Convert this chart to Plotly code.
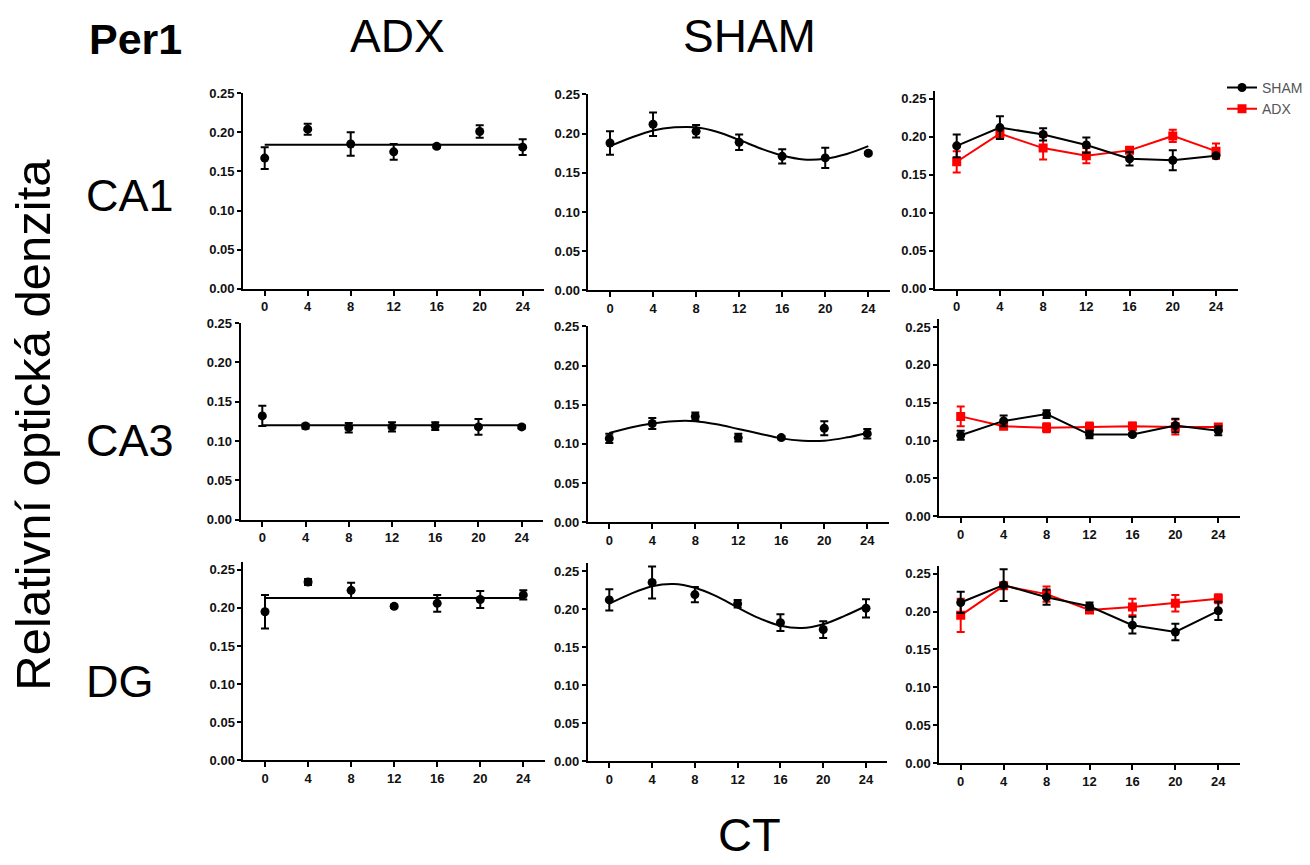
import plotly.graph_objects as go

# ---------------- data ----------------
ct = [0, 4, 8, 12, 16, 20, 24]
fit_ct = [0, 2, 4, 6, 8, 10, 12, 14, 16, 18, 20, 22, 24]
ct_ticks = [0, 4, 8, 12, 16, 20, 24]
y_ticks = [0.0, 0.05, 0.10, 0.15, 0.20, 0.25]

ca1_adx = [0.167, 0.204, 0.185, 0.175, 0.182, 0.201, 0.181]
ca1_adx_sem = [0.014, 0.007, 0.015, 0.010, 0.002, 0.008, 0.010]
ca1_adx_fit = 0.184
ca1_sham = [0.188, 0.212, 0.203, 0.189, 0.171, 0.169, 0.175]
ca1_sham_sem = [0.015, 0.015, 0.008, 0.010, 0.009, 0.013, 0.002]
ca1_sham_fit = [0.184, 0.195, 0.204, 0.208, 0.208, 0.202, 0.192, 0.181, 0.172, 0.167, 0.168, 0.174, 0.184]

ca3_adx = [0.132, 0.119, 0.117, 0.118, 0.119, 0.118, 0.118]
ca3_adx_sem = [0.013, 0.003, 0.006, 0.006, 0.005, 0.010, 0.002]
ca3_adx_fit = 0.120
ca3_sham = [0.107, 0.126, 0.135, 0.108, 0.108, 0.120, 0.113]
ca3_sham_sem = [0.006, 0.007, 0.005, 0.005, 0.002, 0.009, 0.006]
ca3_sham_fit = [0.114, 0.121, 0.126, 0.129, 0.129, 0.125, 0.119, 0.113, 0.107, 0.104, 0.104, 0.108, 0.114]

dg_adx = [0.195, 0.234, 0.223, 0.202, 0.206, 0.211, 0.217]
dg_adx_sem = [0.022, 0.004, 0.010, 0.002, 0.011, 0.011, 0.006]
dg_adx_fit = 0.213
dg_sham = [0.212, 0.235, 0.219, 0.207, 0.182, 0.173, 0.201]
dg_sham_sem = [0.014, 0.021, 0.010, 0.005, 0.011, 0.011, 0.012]
dg_sham_fit = [0.207, 0.220, 0.230, 0.233, 0.228, 0.217, 0.202, 0.188, 0.178, 0.175, 0.180, 0.191, 0.204]

regions = ["CA1", "CA3", "DG"]
groups = ["ADX", "SHAM"]

# ---------------- layout geometry (pixels) ----------------
W, H = 1310, 865
# per panel: px of CT0, px of CT24, py of 0, py of 0.25, y max
panels = [
    (264.7, 522.7, 286.7, 87.7, 0.25),
    (610.0, 868.3, 288.3, 89.0, 0.25),
    (956.7, 1216.0, 286.7, 93.3, 0.26),
    (262.3, 521.7, 521.7, 321.7, 0.25),
    (609.3, 867.3, 524.3, 325.0, 0.25),
    (960.7, 1218.3, 518.3, 325.7, 0.26),
    (265.0, 523.3, 766.7, 572.7, 0.26),
    (609.3, 866.0, 767.3, 574.0, 0.26),
    (960.7, 1218.3, 769.3, 576.7, 0.26),
]
XR = (-2, 26)

FONT = "Liberation Sans, Arial, sans-serif"
RED = "#ff0000"
BLK = "#000000"

fig = go.Figure()
layout = dict(
    width=W, height=H, margin=dict(l=0, r=0, t=0, b=0),
    paper_bgcolor="white", plot_bgcolor="white",
    font=dict(family=FONT, color="black"),
    showlegend=True,
)

for i, (x0, x24, y0, y25, ymax) in enumerate(panels):
    ppu = (x24 - x0) / 24.0
    left = x0 + XR[0] * ppu
    right = x0 + XR[1] * ppu
    ppv = (y0 - y25) / 0.25
    top = y0 - ymax * ppv
    n = "" if i == 0 else str(i + 1)
    layout["xaxis" + n] = dict(
        domain=[left / W, right / W], range=list(XR), anchor="y" + n,
        tickvals=ct_ticks, ticks="outside", ticklen=5, tickwidth=2, tickcolor="black",
        showline=True, linecolor="black", linewidth=2, showgrid=False, zeroline=False,
        tickfont=dict(family=FONT, size=13, color="#111", weight="bold"),
        fixedrange=True,
    )
    layout["yaxis" + n] = dict(
        domain=[1 - y0 / H, 1 - top / H], range=[0, ymax], anchor="x" + n,
        tickvals=y_ticks, tickformat=".2f", ticks="outside", ticklen=4, tickwidth=2,
        tickcolor="black", showline=True, linecolor="black", linewidth=2,
        showgrid=False, zeroline=False,
        tickfont=dict(family=FONT, size=13, color="#111", weight="bold"),
        fixedrange=True,
    )

data_rows = [
    (ca1_adx, ca1_adx_sem, ca1_adx_fit, ca1_sham, ca1_sham_sem, ca1_sham_fit),
    (ca3_adx, ca3_adx_sem, ca3_adx_fit, ca3_sham, ca3_sham_sem, ca3_sham_fit),
    (dg_adx, dg_adx_sem, dg_adx_fit, dg_sham, dg_sham_sem, dg_sham_fit),
]

def axes(i):
    n = "" if i == 0 else str(i + 1)
    return "x" + n, "y" + n

for r, (adx, adx_sem, adx_fit, sham, sham_sem, sham_fit) in enumerate(data_rows):
    # ADX column
    xa, ya = axes(r * 3)
    fig.add_trace(go.Scatter(x=[ct[0], ct[-1]], y=[adx_fit, adx_fit], mode="lines",
                             line=dict(color=BLK, width=2), xaxis=xa, yaxis=ya, showlegend=False))
    fig.add_trace(go.Scatter(x=ct, y=adx, mode="markers",
                             marker=dict(color=BLK, size=9, symbol="circle"),
                             error_y=dict(type="data", array=adx_sem, color=BLK, thickness=2, width=4),
                             xaxis=xa, yaxis=ya, showlegend=False))
    # SHAM column
    xa, ya = axes(r * 3 + 1)
    fig.add_trace(go.Scatter(x=fit_ct, y=sham_fit, mode="lines", line_shape="spline",
                             line=dict(color=BLK, width=2), xaxis=xa, yaxis=ya, showlegend=False))
    fig.add_trace(go.Scatter(x=ct, y=sham, mode="markers",
                             marker=dict(color=BLK, size=9, symbol="circle"),
                             error_y=dict(type="data", array=sham_sem, color=BLK, thickness=2, width=4),
                             xaxis=xa, yaxis=ya, showlegend=False))
    # combined
    xa, ya = axes(r * 3 + 2)
    fig.add_trace(go.Scatter(x=ct, y=adx, mode="lines+markers", name="ADX",
                             line=dict(color=RED, width=2),
                             marker=dict(color=RED, size=9, symbol="square"),
                             error_y=dict(type="data", array=adx_sem, color=RED, thickness=2, width=4),
                             xaxis=xa, yaxis=ya, showlegend=(r == 0), legendrank=2))
    fig.add_trace(go.Scatter(x=ct, y=sham, mode="lines+markers", name="SHAM",
                             line=dict(color=BLK, width=2),
                             marker=dict(color=BLK, size=9, symbol="circle"),
                             error_y=dict(type="data", array=sham_sem, color=BLK, thickness=2, width=4),
                             xaxis=xa, yaxis=ya, showlegend=(r == 0), legendrank=1))

layout["legend"] = dict(
    x=1222 / W, y=1 - 66 / H, xanchor="left", yanchor="top",
    font=dict(family=FONT, size=14, color="#555"), itemwidth=30,
    bgcolor="rgba(0,0,0,0)", tracegroupgap=0,
)

def ann(text, px, py, size, bold=False, xanchor="center", angle=0):
    return dict(text=("<b>%s</b>" % text) if bold else text, x=px / W, y=1 - py / H,
                xref="paper", yref="paper", showarrow=False, xanchor=xanchor,
                yanchor="middle", textangle=angle,
                font=dict(family=FONT, size=size, color="black"))

annotations = [
    ann("Per1", 135, 33, 43, bold=True),
    ann(groups[0], 397, 30, 46),
    ann(groups[1], 750, 30, 46),
    ann(regions[0], 84, 192, 45, xanchor="left"),
    ann(regions[1], 84, 441, 45, xanchor="left"),
    ann(regions[2], 84, 686, 45, xanchor="left"),
    ann("Relativní optická denzita", 33, 425, 49, angle=-90),
    ann("CT", 750, 842, 47),
]
layout["annotations"] = annotations

fig.update_layout(**layout)
fig.write_html("out.html", config={"displayModeBar": False},
               post_script="document.body.style.margin='0';document.body.style.padding='0';")
